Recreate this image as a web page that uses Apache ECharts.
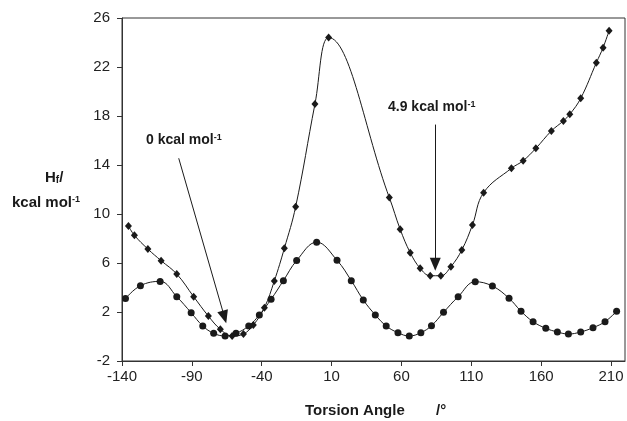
<!DOCTYPE html>
<html>
<head>
<meta charset="utf-8">
<script src="https://cdn.jsdelivr.net/npm/echarts@6/dist/echarts.min.js"></script>
<style>
  html, body { margin: 0; padding: 0; background: #fff; }
  #chart { width: 627px; height: 421px; }
</style>
</head>
<body>
<div id="chart"></div>
<script>
// circles (lower curve)
const circX = [-137.5, -126.8, -112.7, -100.8, -90.5, -82.2, -74.4, -66.2, -58.4, -49.3, -41.7, -33.3, -24.5, -15, -0.7,
  13.9, 24.1, 32.7, 41.3, 49.1, 57.5, 65.6, 73.9, 81.5, 90.1, 100.6, 112.8, 125.1, 137, 145.6, 154.2, 163.3, 171.6,
  179.5, 188.3, 197.1, 205.7, 214];
const circY = [3.1, 4.15, 4.5, 3.25, 1.94, 0.86, 0.26, 0.04, 0.26, 0.86, 1.76, 3.04, 4.56, 6.2, 7.7,
  6.22, 4.56, 2.98, 1.76, 0.86, 0.31, 0.04, 0.31, 0.88, 1.97, 3.25, 4.47, 4.12, 3.12, 2.06, 1.21, 0.67, 0.37,
  0.2, 0.37, 0.72, 1.21, 2.06];

// diamonds (upper curve)
const diaX = [-135.4, -131.1, -121.5, -112, -100.8, -88.7, -78.2, -69.6, -61.2, -53.1, -46, -38.1, -31, -23.8, -15.7,
  -1.9, 7.9, 51.3, 59.1, 66.3, 73.4, 80.6, 88.2, 95.4, 103.2, 110.8, 118.8, 138.7, 147.1, 156.2, 167.3, 175.9,
  180.5, 188.3, 199.5, 204.3, 208.6];
const diaY = [9.02, 8.26, 7.14, 6.19, 5.1, 3.25, 1.67, 0.59, 0.04, 0.2, 0.94, 2.35, 4.53, 7.2, 10.6,
  18.98, 24.4, 11.35, 8.75, 6.84, 5.57, 4.96, 4.96, 5.7, 7.06, 9.1, 11.74, 13.73, 14.35, 15.36, 16.78, 17.6,
  18.14, 19.44, 22.35, 23.58, 24.96];

const xTicks = [-140, -90, -40, 10, 60, 110, 160, 210];

// arrows: [start, end] in data units
const arrow0 = [[-99.4, 14.55], [-66.7, 1.6]];
const arrow49 = [[84.2, 17.3], [84.2, 5.9]];

const FONT = 'Liberation Sans, Arial, sans-serif';
const INK = '#1a1a1a';

function pairs(xs, ys) {
  return xs.map((x, i) => [x, ys[i]]);
}

let chart = echarts.init(document.getElementById('chart'));
chart.setOption({
  animation: false,
  grid: {
    left: 122, right: 2, top: 18, bottom: 60,
    show: true, borderColor: '#333', borderWidth: 1
  },
  xAxis: {
    type: 'value',
    min: -140, max: 220,
    axisLine: {onZero: false, lineStyle: {color: '#333', width: 1}},
    axisTick: {customValues: xTicks, length: 5, lineStyle: {color: '#333'}},
    axisLabel: {customValues: xTicks, margin: 8, fontFamily: FONT, fontSize: 15, color: '#222'},
    splitLine: {show: false}
  },
  yAxis: {
    type: 'value',
    min: -2, max: 26, interval: 4,
    axisLine: {show: true, onZero: false, lineStyle: {color: '#333', width: 1}},
    axisTick: {show: true, length: 5, lineStyle: {color: '#333'}},
    axisLabel: {margin: 12, fontFamily: FONT, fontSize: 15, color: '#222'},
    splitLine: {show: false}
  },
  series: [
    {
      type: 'line',
      data: pairs(diaX, diaY),
      smooth: 0.4,
      symbol: 'diamond',
      symbolSize: [7, 8],
      itemStyle: {color: INK},
      lineStyle: {color: INK, width: 1},
      z: 3,
      markLine: {
        silent: true,
        symbol: ['none', 'triangle'],
        symbolSize: [11, 13],
        label: {show: false},
        lineStyle: {color: INK, width: 1, type: 'solid'},
        data: [
          [{coord: arrow0[0]}, {coord: arrow0[1]}],
          [{coord: arrow49[0]}, {coord: arrow49[1]}]
        ]
      }
    },
    {
      type: 'line',
      data: pairs(circX, circY),
      smooth: 0.4,
      symbol: 'circle',
      symbolSize: 7,
      itemStyle: {color: INK},
      lineStyle: {color: INK, width: 1},
      z: 2
    }
  ],
  graphic: [
    {
      type: 'text', left: 146, top: 133,
      style: {
        text: '0 kcal mol{s|-1}', fontFamily: FONT, fontSize: 14, fontWeight: 'bold', fill: INK,
        rich: {s: {fontFamily: FONT, fontSize: 9, fontWeight: 'bold', verticalAlign: 'top', fill: INK}}
      }
    },
    {
      type: 'text', left: 388, top: 100,
      style: {
        text: '4.9 kcal mol{s|-1}', fontFamily: FONT, fontSize: 14, fontWeight: 'bold', fill: INK,
        rich: {s: {fontFamily: FONT, fontSize: 9, fontWeight: 'bold', verticalAlign: 'top', fill: INK}}
      }
    },
    {
      type: 'text', left: 45, top: 170,
      style: {
        text: 'H{f|f}/', fontFamily: FONT, fontSize: 15, fontWeight: 'bold', fill: INK,
        rich: {f: {fontFamily: FONT, fontSize: 10, fontWeight: 'bold', verticalAlign: 'bottom', fill: INK}}
      }
    },
    {
      type: 'text', left: 12, top: 195,
      style: {
        text: 'kcal mol{s|-1}', fontFamily: FONT, fontSize: 15, fontWeight: 'bold', fill: INK,
        rich: {s: {fontFamily: FONT, fontSize: 9, fontWeight: 'bold', verticalAlign: 'top', fill: INK}}
      }
    },
    {
      type: 'text', left: 305, top: 403,
      style: {text: 'Torsion Angle', fontFamily: FONT, fontSize: 15, fontWeight: 'bold', fill: INK}
    },
    {
      type: 'text', left: 436, top: 403,
      style: {text: '/°', fontFamily: FONT, fontSize: 15, fontWeight: 'bold', fill: INK}
    }
  ]
});
</script>
</body>
</html>
